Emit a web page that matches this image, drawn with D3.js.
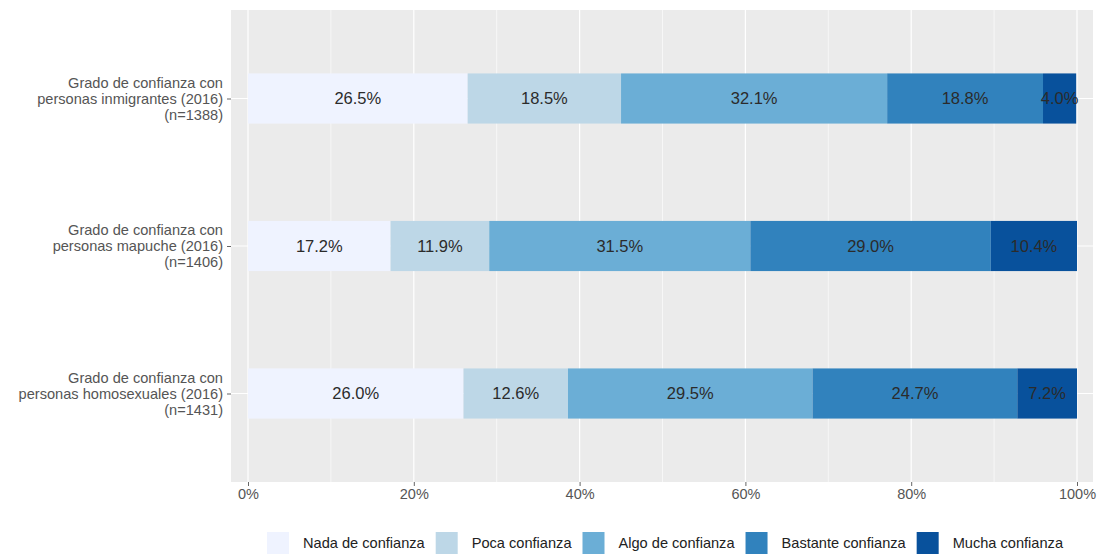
<!DOCTYPE html>
<html>
<head>
<meta charset="utf-8">
<script src="https://cdn.jsdelivr.net/npm/d3@7/dist/d3.min.js"></script>
<style>
  html, body { margin: 0; padding: 0; background: #fff; }
  svg { display: block; font-family: "Liberation Sans", Arial, sans-serif; }
</style>
</head>
<body>
<svg id="chart" width="1101" height="556"></svg>
<script>
// ---- Data ----
const categories = [
  ["Grado de confianza con", "personas inmigrantes (2016)", "(n=1388)"],
  ["Grado de confianza con", "personas mapuche (2016)", "(n=1406)"],
  ["Grado de confianza con", "personas homosexuales (2016)", "(n=1431)"]
];
const categoryKeys = ["inmigrantes", "mapuche", "homosexuales"];
const levels = ["Nada de confianza", "Poca confianza", "Algo de confianza", "Bastante confianza", "Mucha confianza"];
const colors = ["#EFF3FF", "#BDD7E7", "#6BAED6", "#3182BD", "#08519C"];
const valuesInmigrantes = [26.5, 18.5, 32.1, 18.8, 4.0];
const valuesMapuche = [17.2, 11.9, 31.5, 29.0, 10.4];
const valuesHomosexuales = [26.0, 12.6, 29.5, 24.7, 7.2];
const seriesValues = [valuesInmigrantes, valuesMapuche, valuesHomosexuales];
const xTicks = [0, 20, 40, 60, 80, 100];
const xMinorTicks = [10, 30, 50, 70, 90];

// ---- Layout ----
const svg = d3.select("#chart");
const panel = { left: 231, right: 1093, top: 10, bottom: 482 };

const x = d3.scaleLinear().domain([0, 100]).range([248, 1077]);
const y = d3.scalePoint().domain(categoryKeys).range([panel.top, panel.bottom]).padding(0.6);
const barH = y.step() * 0.34;
const color = d3.scaleOrdinal().domain(levels).range(colors);

// panel background
svg.append("rect")
  .attr("x", panel.left).attr("y", panel.top)
  .attr("width", panel.right - panel.left).attr("height", panel.bottom - panel.top)
  .attr("fill", "#EBEBEB");

// grid lines
const grid = svg.append("g");
grid.selectAll("line.minor").data(xMinorTicks).join("line")
  .attr("x1", d => x(d)).attr("x2", d => x(d))
  .attr("y1", panel.top).attr("y2", panel.bottom)
  .attr("stroke", "#fff").attr("stroke-width", 0.6);
grid.selectAll("line.major").data(xTicks).join("line")
  .attr("x1", d => x(d)).attr("x2", d => x(d))
  .attr("y1", panel.top).attr("y2", panel.bottom)
  .attr("stroke", "#fff").attr("stroke-width", 1.2);
grid.selectAll("line.hmajor").data(categoryKeys).join("line")
  .attr("x1", panel.left).attr("x2", panel.right)
  .attr("y1", d => y(d)).attr("y2", d => y(d))
  .attr("stroke", "#fff").attr("stroke-width", 1.2);

// stacked data
const rows = categoryKeys.map((k, i) => {
  const obj = { key: k };
  levels.forEach((l, j) => obj[l] = seriesValues[i][j]);
  return obj;
});
const stacked = d3.stack().keys(levels)(rows);

const bars = svg.append("g");
stacked.forEach(layer => {
  bars.selectAll(null).data(layer).join("rect")
    .attr("x", d => x(d[0]))
    .attr("width", d => x(d[1]) - x(d[0]))
    .attr("y", d => y(d.data.key) - barH / 2)
    .attr("height", barH)
    .attr("fill", color(layer.key));
});

// bar labels
const labels = svg.append("g");
stacked.forEach(layer => {
  labels.selectAll(null).data(layer).join("text")
    .attr("x", d => x((d[0] + d[1]) / 2))
    .attr("y", d => y(d.data.key))
    .attr("dy", "0.36em")
    .attr("text-anchor", "middle")
    .attr("font-size", 16.5)
    .attr("fill", "#2b2b2b")
    .text(d => (d[1] - d[0]).toFixed(1) + "%");
});

// x axis
const xAxis = d3.axisBottom(x).tickValues(xTicks).tickFormat(d => d + "%").tickSize(4).tickPadding(3);
const gx = svg.append("g").attr("transform", `translate(0,${panel.bottom})`).call(xAxis);
gx.select(".domain").remove();
gx.selectAll(".tick line").attr("stroke", "#666");
gx.selectAll(".tick text").attr("font-size", 14.5).attr("fill", "#555").attr("font-family", "Liberation Sans, Arial, sans-serif");

// y axis
const yAxis = d3.axisLeft(y).tickSize(4).tickFormat("");
const gy = svg.append("g").attr("transform", `translate(${panel.left},0)`).call(yAxis);
gy.select(".domain").remove();
gy.selectAll(".tick line").attr("stroke", "#666");
const yl = svg.append("g");
categoryKeys.forEach((k, i) => {
  const t = yl.append("text")
    .attr("text-anchor", "end")
    .attr("font-size", 14.6)
    .attr("fill", "#555");
  categories[i].forEach((line, j) => {
    t.append("tspan")
      .attr("x", panel.left - 8)
      .attr("y", y(k) + (j - 1) * 16)
      .attr("dy", "0.36em")
      .text(line);
  });
});

// legend
const legend = svg.append("g");
const keySize = 22;
let lx = 267;
const ly = 543;
levels.forEach((l, i) => {
  legend.append("rect")
    .attr("x", lx).attr("y", ly - keySize / 2)
    .attr("width", keySize).attr("height", keySize)
    .attr("fill", color(l));
  const t = legend.append("text")
    .attr("x", lx + keySize + 14)
    .attr("y", ly).attr("dy", "0.36em")
    .attr("font-size", 14.6)
    .attr("fill", "#222")
    .text(l);
  const w = t.node().getComputedTextLength();
  lx = lx + keySize + 14 + w + 11;
});
</script>
</body>
</html>
